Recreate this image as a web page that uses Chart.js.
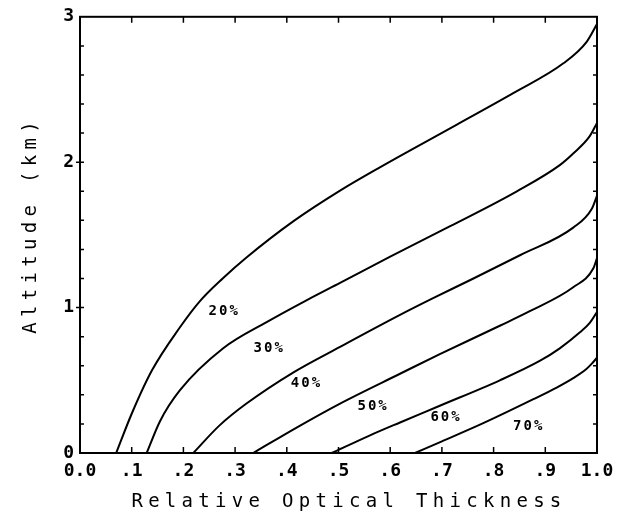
<!DOCTYPE html>
<html>
<head>
<meta charset="utf-8">
<script src="https://cdn.jsdelivr.net/npm/chart.js@4.4.1/dist/chart.umd.min.js"></script>
<style>
  html, body { margin: 0; padding: 0; background: #fff; }
  #wrap { width: 625px; height: 519px; }
</style>
</head>
<body>
<div id="wrap"><canvas id="chart"></canvas></div>
<script>
// values (relative optical thickness vs altitude in km)
const thick20 = [0.070, 0.100, 0.139, 0.193, 0.232, 0.277, 0.322, 0.413, 0.503, 0.580, 0.729, 0.838, 0.935, 0.980, 1.0];
const alt20   = [0, 0.27, 0.567, 0.863, 1.045, 1.204, 1.345, 1.595, 1.805, 1.965, 2.259, 2.475, 2.68, 2.828, 2.95];

const thick30 = [0.129, 0.155, 0.193, 0.277, 0.361, 0.438, 0.503, 0.600, 0.716, 0.845, 0.928, 0.954, 0.986, 1.0];
const alt30   = [0, 0.22, 0.43, 0.72, 0.90, 1.05, 1.17, 1.35, 1.56, 1.80, 1.98, 2.06, 2.179, 2.27];

const thick40 = [0.219, 0.270, 0.322, 0.413, 0.503, 0.619, 0.683, 0.761, 0.851, 0.954, 0.990, 1.0];
const alt40   = [0, 0.19, 0.34, 0.555, 0.73, 0.95, 1.065, 1.20, 1.36, 1.55, 1.68, 1.77];

const thick50 = [0.335, 0.419, 0.503, 0.619, 0.696, 0.812, 0.870, 0.954, 0.993, 1.0];
const alt50   = [0, 0.175, 0.34, 0.545, 0.68, 0.875, 0.975, 1.14, 1.27, 1.34];

const thick60 = [0.487, 0.560, 0.619, 0.696, 0.812, 0.890, 0.928, 0.967, 0.986, 1.0];
const alt60   = [0, 0.12, 0.21, 0.325, 0.50, 0.635, 0.72, 0.83, 0.895, 0.97];

const thick70 = [0.648, 0.700, 0.780, 0.877, 0.922, 0.954, 0.980, 0.990, 1.0];
const alt70   = [0, 0.08, 0.205, 0.37, 0.45, 0.515, 0.58, 0.615, 0.655];

const curveNames = ['20%', '30%', '40%', '50%', '60%', '70%'];
const labelThick = [0.279, 0.366, 0.438, 0.567, 0.708, 0.868];
const labelAlt   = [0.977, 0.717, 0.478, 0.321, 0.246, 0.184];

const xTickLabels = ['0.0', '.1', '.2', '.3', '.4', '.5', '.6', '.7', '.8', '.9', '1.0'];
const yTickLabels = ['0', '1', '2', '3'];

const xTitle = 'Relative Optical Thickness';
const yTitle = 'Altitude (km)';

const allThick = [thick20, thick30, thick40, thick50, thick60, thick70];
const allAlt = [alt20, alt30, alt40, alt50, alt60, alt70];

const datasets = curveNames.map((name, i) => ({
  label: name,
  data: allThick[i].map((t, j) => ({ x: t, y: allAlt[i][j] })),
  showLine: true,
  borderColor: '#000',
  borderWidth: 2,
  pointRadius: 0,
  cubicInterpolationMode: 'monotone',
}));

// frame + inward ticks, like the plotter original
const framePlugin = {
  id: 'frame',
  afterDatasetsDraw(chart) {
    const { ctx, chartArea: a, scales: { x, y } } = chart;
    ctx.save();
    ctx.strokeStyle = '#000';
    ctx.lineWidth = 2;
    ctx.strokeRect(a.left, a.top, a.right - a.left, a.bottom - a.top);
    ctx.lineWidth = 1.5;
    ctx.beginPath();
    for (let i = 1; i < 10; i++) {
      const px = x.getPixelForValue(i / 10);
      ctx.moveTo(px, a.bottom); ctx.lineTo(px, a.bottom - 6);
      ctx.moveTo(px, a.top); ctx.lineTo(px, a.top + 6);
    }
    for (let i = 1; i < 15; i++) {
      const py = y.getPixelForValue(i / 5);
      const major = i % 5 === 0;
      ctx.moveTo(a.left - (major ? 4 : 0), py); ctx.lineTo(a.left + 4, py);
      ctx.moveTo(a.right, py); ctx.lineTo(a.right - 4, py);
    }
    ctx.stroke();
    ctx.restore();
  },
};

// curve labels and axis titles
const textPlugin = {
  id: 'texts',
  afterDraw(chart) {
    const { ctx, chartArea: a, scales: { x, y } } = chart;
    ctx.save();
    ctx.fillStyle = '#000';
    ctx.textAlign = 'center';
    ctx.textBaseline = 'middle';
    ctx.font = 'bold 14px "DejaVu Sans Mono"';
    ctx.letterSpacing = '2px';
    curveNames.forEach((name, i) => {
      ctx.fillText(name, x.getPixelForValue(labelThick[i]), y.getPixelForValue(labelAlt[i]));
    });

    ctx.font = '19px "DejaVu Sans Mono"';
    ctx.letterSpacing = '5.3px';
    ctx.textBaseline = 'alphabetic';
    ctx.fillText(xTitle, 349, 507);

    ctx.translate(36, (a.top + a.bottom) / 2 - 10);
    ctx.rotate(-Math.PI / 2);
    ctx.fillText(yTitle, 0, 0);
    ctx.restore();
  },
};

new Chart(document.getElementById('chart'), {
  type: 'scatter',
  data: { datasets },
  options: {
    responsive: true,
    maintainAspectRatio: false,
    animation: false,
    layout: { padding: { top: 14, right: 28, left: 0, bottom: 0 } },
    plugins: { legend: { display: false }, tooltip: { enabled: false } },
    scales: {
      x: {
        type: 'linear',
        min: 0,
        max: 1,
        grid: { display: false, drawTicks: false },
        border: { display: false },
        afterFit: (s) => { s.height = 66; },
        ticks: {
          stepSize: 0.1,
          padding: 8,
          color: '#000',
          font: { family: 'DejaVu Sans Mono', size: 18, weight: 'bold' },
          callback: (v) => xTickLabels[Math.round(v * 10)],
          maxRotation: 0,
          autoSkip: false,
        },
      },
      y: {
        type: 'linear',
        min: 0,
        max: 3,
        grid: { display: false, drawTicks: false },
        border: { display: false },
        afterFit: (s) => { s.width = 80; },
        ticks: {
          stepSize: 1,
          padding: 6,
          color: '#000',
          font: { family: 'DejaVu Sans Mono', size: 18, weight: 'bold' },
          callback: (v) => yTickLabels[Math.round(v)],
        },
      },
    },
  },
  plugins: [framePlugin, textPlugin],
});
</script>
</body>
</html>
